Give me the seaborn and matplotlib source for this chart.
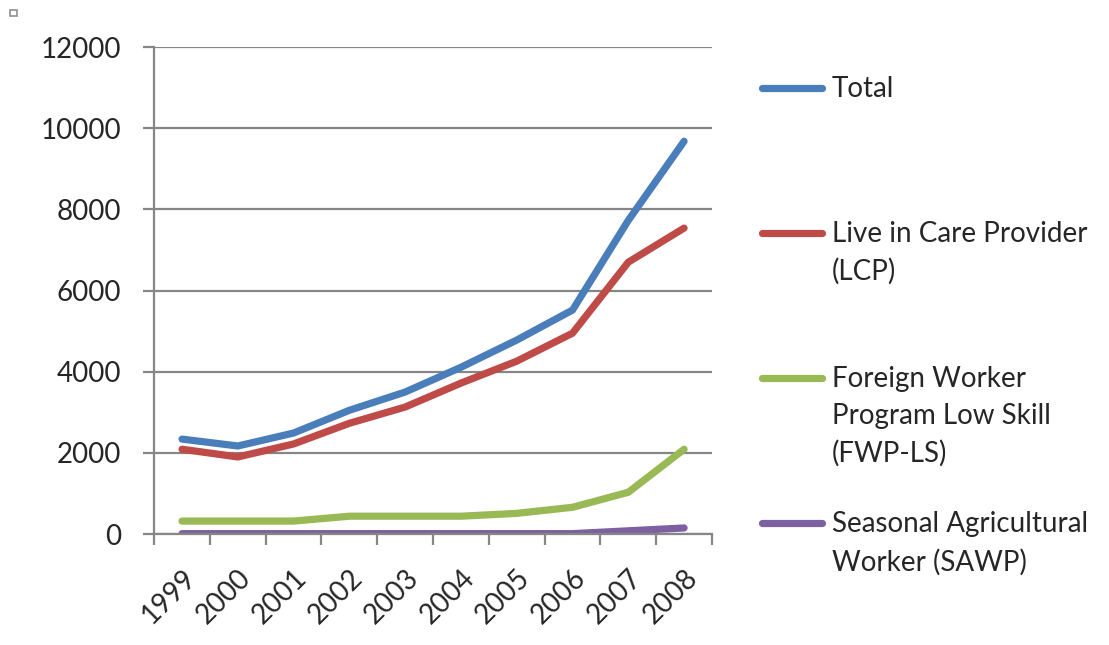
import numpy as np
import pandas as pd
import seaborn as sns
import matplotlib.pyplot as plt
from matplotlib.lines import Line2D
from matplotlib.patches import Rectangle

# values
years = [1999, 2000, 2001, 2002, 2003, 2004, 2005, 2006, 2007, 2008]
total = [2340, 2170, 2490, 3050, 3500, 4110, 4780, 5520, 7730, 9680]
lcp = [2090, 1900, 2220, 2730, 3130, 3720, 4260, 4950, 6700, 7540]
fwp_ls = [320, 320, 320, 440, 440, 440, 510, 660, 1030, 2090]
sawp = [10, 10, 10, 10, 10, 10, 10, 10, 80, 150]

labels = ['Total', 'Live in Care Provider\n(LCP)',
          'Foreign Worker\nProgram Low Skill\n(FWP-LS)',
          'Seasonal Agricultural\nWorker (SAWP)']
colors = ['#4A7EBB', '#BE4B48', '#98B954', '#7D60A0']

df = pd.DataFrame({
    'year': years * 4,
    'value': total + lcp + fwp_ls + sawp,
    'series': np.repeat(labels, len(years)),
})

sns.set_theme(style='white')
plt.rcParams['font.family'] = ['Lato', 'DejaVu Sans']

fig = plt.figure(figsize=(11.09, 6.45), dpi=100)
ax = fig.add_axes([0.139, 0.172, 0.503, 0.755])

sns.lineplot(data=df, x='year', y='value', hue='series', palette=colors,
             linewidth=5.2, legend=False, ax=ax, solid_capstyle='round')

grid_c = '#868686'
ax.set_xlim(1998.5, 2008.5)
ax.set_ylim(0, 12000)
ax.set_yticks(range(0, 12001, 2000))
ax.yaxis.grid(True, color=grid_c, linewidth=1.6)
ax.set_axisbelow(True)
ax.set_xlabel('')
ax.set_ylabel('')

ax.set_xticks(years)
ax.set_xticklabels([str(y) for y in years], rotation=45, ha='right',
                   va='top', rotation_mode='anchor')
ax.set_xticks(np.arange(1998.5, 2009, 1), minor=True)
ax.tick_params(axis='x', which='major', length=0, pad=22, labelsize=20)
ax.tick_params(axis='x', which='minor', length=8, width=1.6, color=grid_c,
               direction='out', bottom=True)
ax.tick_params(axis='y', length=8, width=1.6, color=grid_c, direction='out',
               left=True, pad=16, labelsize=20)

for s in ['top', 'right']:
    ax.spines[s].set_visible(False)
for s in ['left', 'bottom']:
    ax.spines[s].set_color(grid_c)
    ax.spines[s].set_linewidth(1.6)

# legend on the right, evenly spread like the original
ys = [0.864, 0.639, 0.414, 0.189]
for lab, col, y in zip(labels, colors, ys):
    fig.add_artist(Line2D([0.687, 0.741], [y, y], color=col, linewidth=5.2,
                          transform=fig.transFigure))
    fig.text(0.750, y + 0.018, lab, fontsize=20, va='top', ha='left',
             linespacing=1.5)

# little square in the corner
fig.add_artist(Rectangle((0.009, 0.975), 0.006, 0.01, fill=False,
                         edgecolor='#909090', linewidth=1.2,
                         transform=fig.transFigure))

fig.savefig('out.png', dpi=100)
